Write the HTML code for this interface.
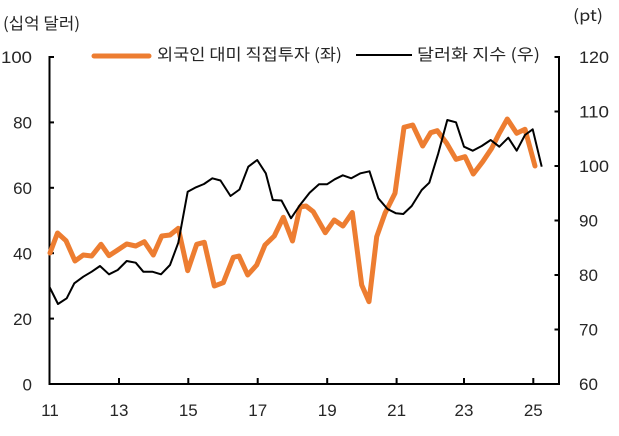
<!DOCTYPE html>
<html>
<head>
<meta charset="utf-8">
<style>
html,body{margin:0;padding:0;background:#fff;}
svg{display:block;}
text{font-family:"Liberation Sans","Noto Sans CJK KR","NanumGothic",sans-serif;fill:#262626;}
.kr{font-family:"Noto Sans CJK KR","NanumGothic",sans-serif;}
</style>
</head>
<body>
<svg width="619" height="436" viewBox="0 0 619 436" xmlns="http://www.w3.org/2000/svg">
<rect width="619" height="436" fill="#fff"/>
<!-- unit labels -->
<text x="3" y="29" font-size="16" class="kr" textLength="77" lengthAdjust="spacingAndGlyphs">(십억 달러)</text>
<text x="573" y="21" font-size="16" class="kr" textLength="30" lengthAdjust="spacingAndGlyphs">(pt)</text>

<!-- legend -->
<line x1="94" y1="56" x2="149" y2="56" stroke="#ED7D31" stroke-width="5" stroke-linecap="round"/>
<text x="157" y="60" font-size="16" class="kr" textLength="185" lengthAdjust="spacingAndGlyphs">외국인 대미 직접투자 (좌)</text>
<line x1="356" y1="55" x2="412" y2="55" stroke="#000" stroke-width="2"/>
<text x="417" y="60" font-size="16" class="kr" textLength="123" lengthAdjust="spacingAndGlyphs">달러화 지수 (우)</text>

<!-- axes -->
<g stroke="#000" stroke-width="2" fill="none">
<line x1="49.5" y1="56" x2="49.5" y2="385"/>
<line x1="559" y1="56" x2="559" y2="385"/>
<line x1="48.5" y1="384" x2="560" y2="384"/>
<!-- left ticks -->
<line x1="49.5" y1="57" x2="54" y2="57"/>
<line x1="49.5" y1="122.4" x2="54" y2="122.4"/>
<line x1="49.5" y1="187.8" x2="54" y2="187.8"/>
<line x1="49.5" y1="253.2" x2="54" y2="253.2"/>
<line x1="49.5" y1="318.6" x2="54" y2="318.6"/>
<!-- right ticks -->
<line x1="554.5" y1="57" x2="559" y2="57"/>
<line x1="554.5" y1="111.5" x2="559" y2="111.5"/>
<line x1="554.5" y1="166" x2="559" y2="166"/>
<line x1="554.5" y1="220.5" x2="559" y2="220.5"/>
<line x1="554.5" y1="275" x2="559" y2="275"/>
<line x1="554.5" y1="329.5" x2="559" y2="329.5"/>
<!-- x ticks -->
<line x1="119" y1="378" x2="119" y2="384"/>
<line x1="188.3" y1="378" x2="188.3" y2="384"/>
<line x1="257.7" y1="378" x2="257.7" y2="384"/>
<line x1="327.2" y1="378" x2="327.2" y2="384"/>
<line x1="396.6" y1="378" x2="396.6" y2="384"/>
<line x1="464" y1="378" x2="464" y2="384"/>
<line x1="533.3" y1="378" x2="533.3" y2="384"/>
</g>

<!-- left labels -->
<g font-size="17" text-anchor="end">
<text x="32" y="63" textLength="31" lengthAdjust="spacingAndGlyphs">100</text>
<text x="32" y="128.5">80</text>
<text x="32" y="194">60</text>
<text x="32" y="259.5">40</text>
<text x="32" y="325">20</text>
<text x="32" y="390.5">0</text>
</g>
<!-- right labels -->
<g font-size="17">
<text x="579" y="63" textLength="30" lengthAdjust="spacingAndGlyphs">120</text>
<text x="579" y="117.5" textLength="30" lengthAdjust="spacingAndGlyphs">110</text>
<text x="579" y="172" textLength="30" lengthAdjust="spacingAndGlyphs">100</text>
<text x="579" y="226.5">90</text>
<text x="579" y="281">80</text>
<text x="579" y="335.5">70</text>
<text x="579" y="390">60</text>
</g>
<!-- x labels -->
<g font-size="17" text-anchor="middle">
<text x="50" y="416">11</text>
<text x="119" y="416">13</text>
<text x="188.3" y="416">15</text>
<text x="257.7" y="416">17</text>
<text x="327.2" y="416">19</text>
<text x="396.6" y="416">21</text>
<text x="464" y="416">23</text>
<text x="533.3" y="416">25</text>
</g>

<!-- orange series -->
<polyline fill="none" stroke="#ED7D31" stroke-width="5" stroke-linejoin="round" stroke-linecap="round"
points="50,253 57.5,233 66,240.7 75,261 83.3,255 91.7,256 101,244.3 109,255.7 117.7,250 126.7,244 135.7,246 144.3,241.7 153.3,255 161.7,236 170,235 178.3,228.3 187.7,270.7 196.7,244.3 204.3,242.3 214.3,286 223.3,282.7 233.3,257.3 239,256 247.7,275 256.7,265 265,245 274.3,236 283.3,217.3 292.5,241 300,207 306,206 313.3,211.7 325.3,232.7 334.2,220 343,226 352.3,212.5 361.7,285 369,301.7 376.7,236.7 385,213.3 395,193.3 404,127.3 412.7,125 422.7,146 430.7,132.7 437.3,130.7 446.7,143.3 456,159.3 465,156.7 473.3,174 482.7,161.7 491.7,148.3 499.3,133.3 507.3,119 516.7,133.3 525,129.3 535,166"/>

<!-- black series -->
<polyline fill="none" stroke="#000" stroke-width="2" stroke-linejoin="round"
points="49.5,287 58,304 66.7,298.3 74.3,283.3 83.3,276.7 91.7,271.7 100,266 109,274.3 117.7,270 126.7,261 135.7,262.7 143.3,271.7 152.3,271.7 161,274.3 170,265 178.3,242.7 187.7,191.7 196,187.3 204,184 212.3,178.3 220.5,180.5 230.5,196 239.5,189.5 248.3,166.7 257.2,160 265.8,173.3 272.8,200 281.5,200.5 291,218.3 300,205 309.6,192.7 319,184.3 327,184.3 334.7,179.3 342.8,175.3 351.3,178.3 360.5,173.3 369.5,171.3 378.3,198.3 387.5,209 396,213.3 403.3,214 411.7,206 421.7,190 429.3,182.7 438.3,153.3 447.3,120 456,122.3 464,146.7 472.7,150.7 481.7,146 490.7,140 499.3,146.7 508.3,137.7 516.7,150.7 525,135 532.7,129.3 541.7,166.7"/>
</svg>
</body>
</html>
